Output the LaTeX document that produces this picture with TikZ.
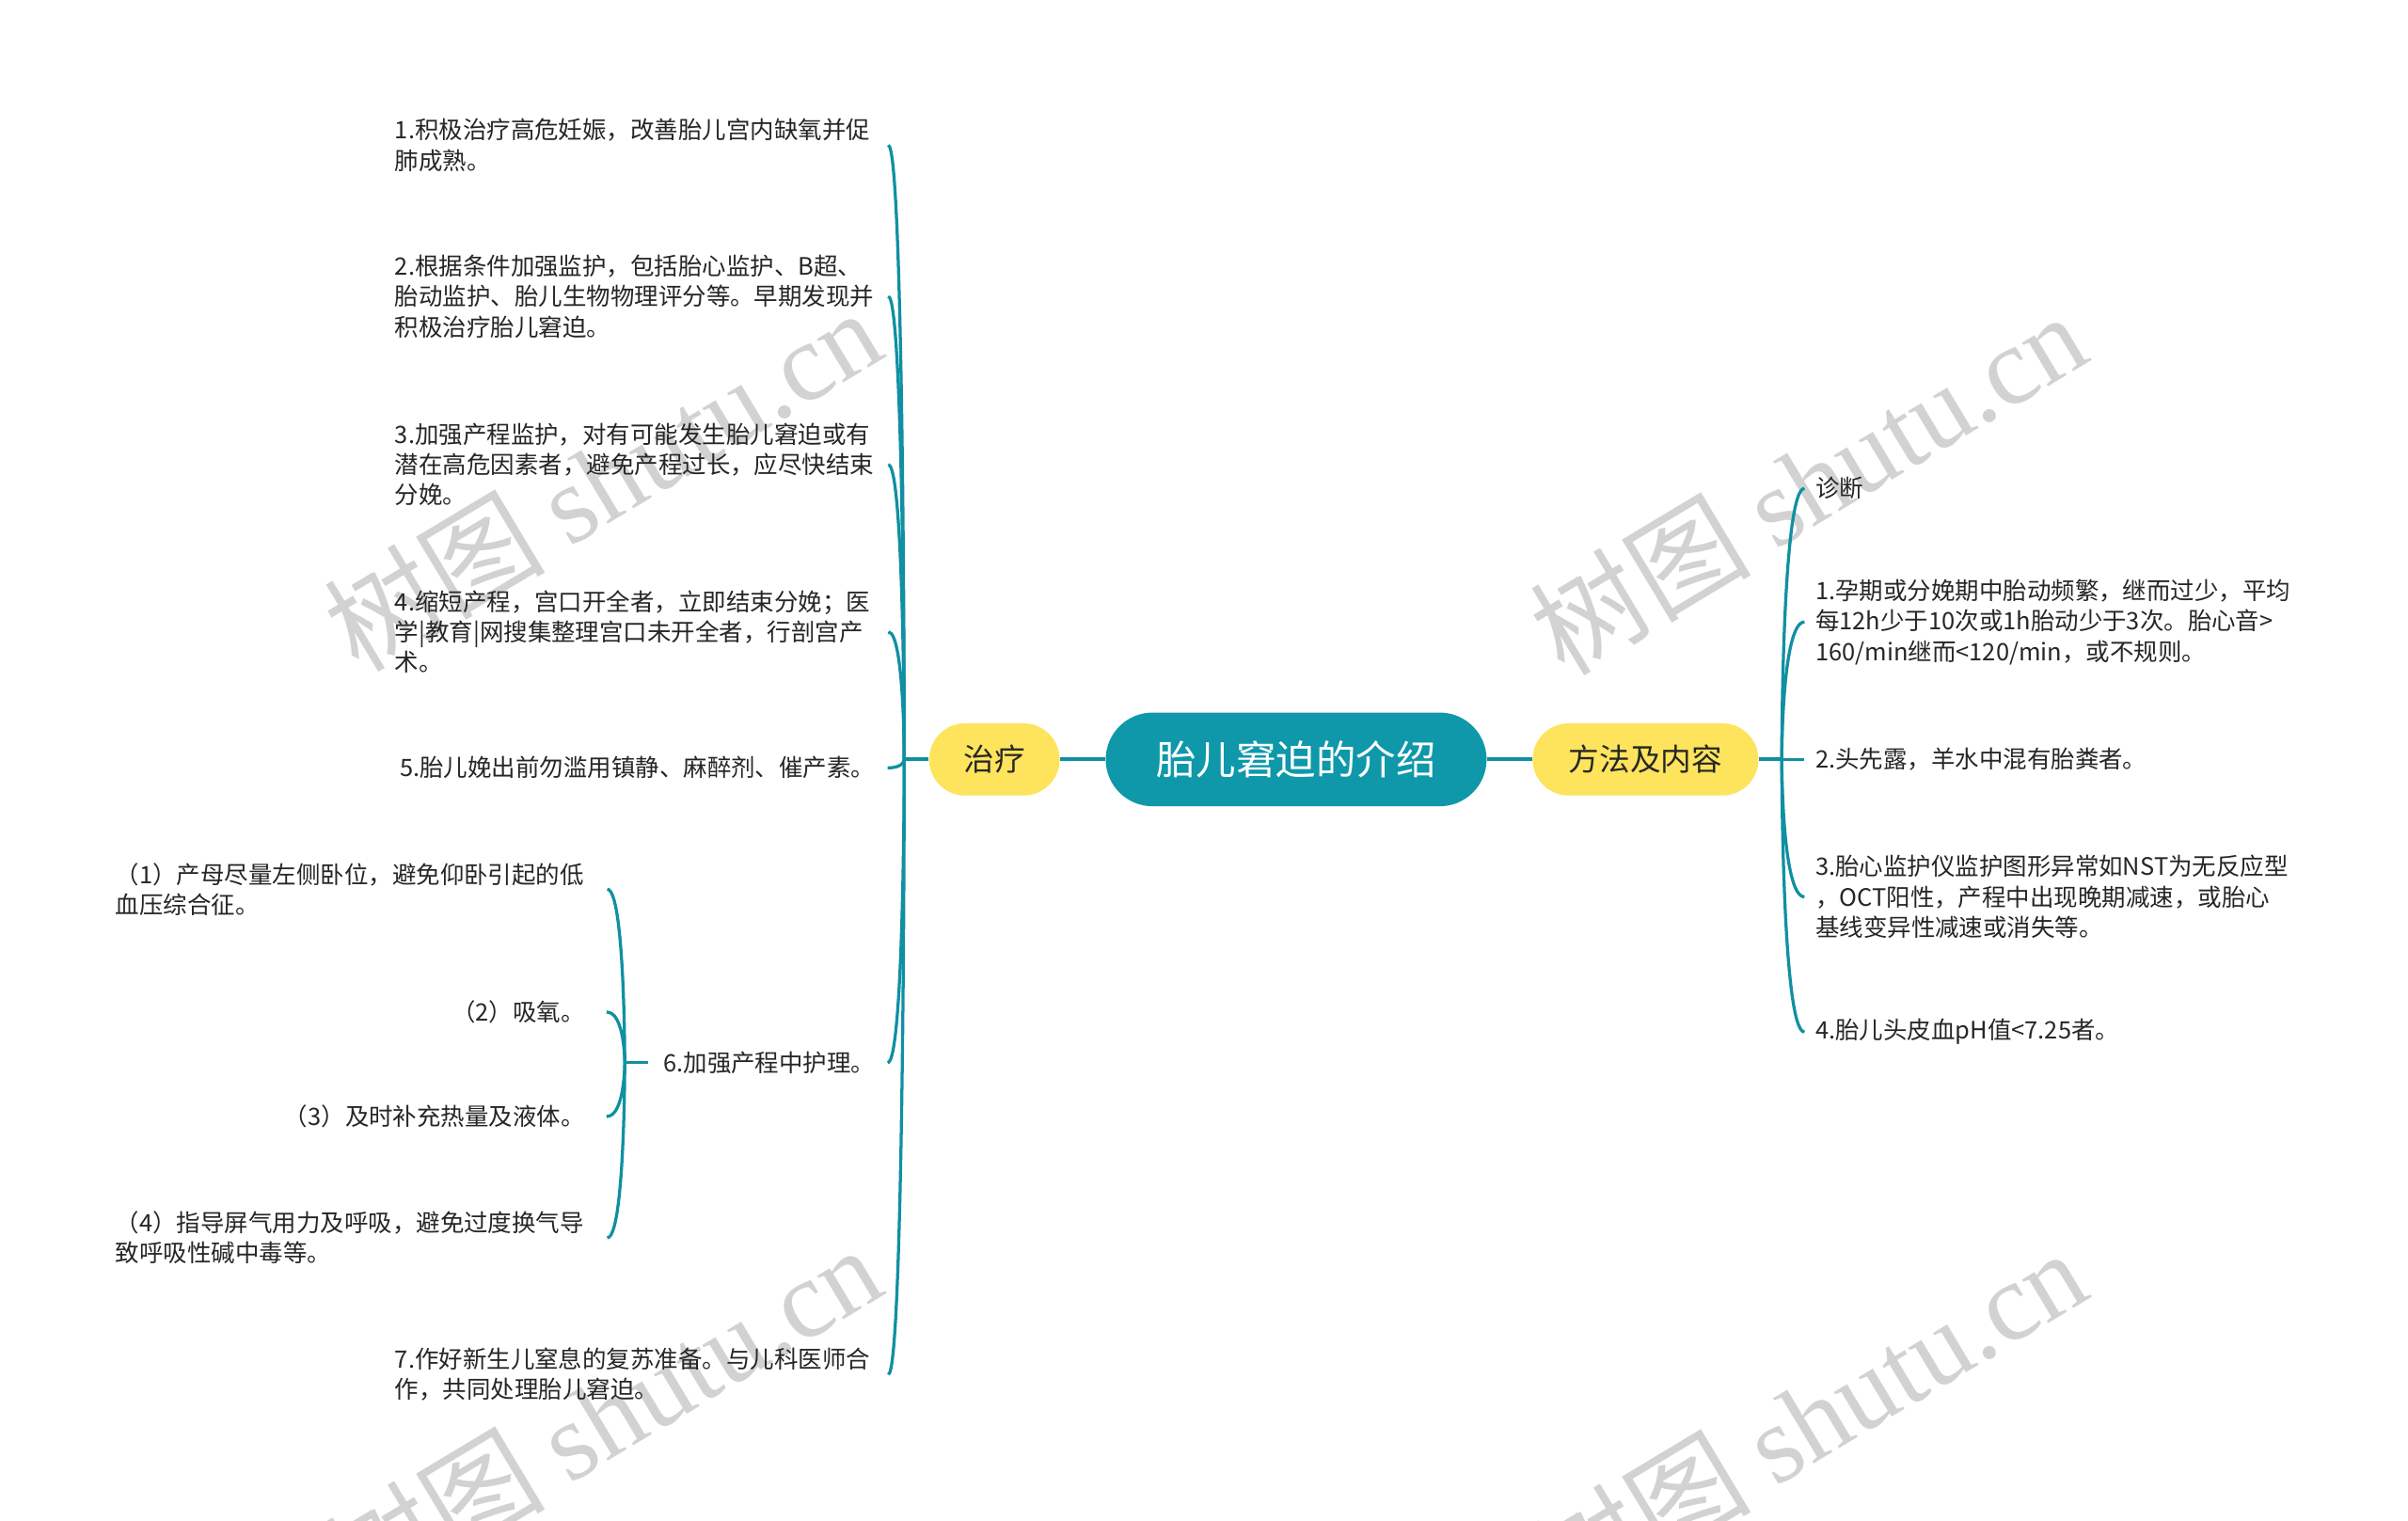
\documentclass[tikz,border=0pt]{standalone}
\usepackage{fontspec}
\setmainfont{Noto Sans CJK SC}
\newfontfamily\wmserif{Liberation Serif}
\definecolor{tealfill}{RGB}{14,152,170}
\definecolor{linecol}{RGB}{16,144,162}
\definecolor{yel}{RGB}{253,228,92}
\definecolor{txt}{RGB}{38,38,38}
\definecolor{wmcol}{RGB}{210,210,210}
\begin{document}
\begin{tikzpicture}[x=1pt,y=-1pt,
  conn/.style={draw=linecol, line width=2pt},
  mainline/.style={draw=linecol, line width=2.4pt},
  item/.style={inner sep=0pt, text=txt, font=\fontsize{15.6}{19.8}\selectfont, align=left},
  litem/.style={item, anchor=west, text width=313pt},
  sitem/.style={item, anchor=west, text width=306pt},
  ritem/.style={item, anchor=west},
  wmk/.style={text=wmcol, font=\fontsize{72}{72}\selectfont, inner sep=0pt, rotate=31},
  topic/.style={fill=yel, text=txt, font=\fontsize{20}{24}\selectfont, minimum height=47pt, rounded corners=23.5pt, inner sep=0pt}
]
\useasboundingbox (0,0) rectangle (1568,990.4);
\fill[white] (0,0) rectangle (1568,990.4);

% watermarks
\node[wmk] (w1) at (392,312) {树图 {\wmserif shutu.cn}};
\node[wmk] (w2) at (1177,314) {树图 {\wmserif shutu.cn}};
\node[wmk] (w3) at (392,922) {树图 {\wmserif shutu.cn}};
\node[wmk] (w4) at (1177,924) {树图 {\wmserif shutu.cn}};

% central and main topics
\node[fill=tealfill, text=white, font=\fontsize{26}{30}\selectfont, minimum width=248pt, minimum height=61pt, rounded corners=30.5pt, inner sep=0pt] (c) at (844,494.5) {胎儿窘迫的介绍};
\node[topic, minimum width=85pt] (tl) at (647.5,494.5) {治疗};
\node[topic, minimum width=147pt] (fr) at (1071.5,494.5) {方法及内容};

\draw[mainline] (c.west) -- (tl.east);
\draw[mainline] (c.east) -- (fr.west);

% left items
\node[litem] (l1) at (257,94.5) {1.积极治疗高危妊娠，改善胎儿宫内缺氧并促\\肺成熟。};
\node[litem] (l2) at (257,193) {2.根据条件加强监护，包括胎心监护、B超、\\胎动监护、胎儿生物物理评分等。早期发现并\\积极治疗胎儿窘迫。};
\node[litem] (l3) at (257,302.5) {3.加强产程监护，对有可能发生胎儿窘迫或有\\潜在高危因素者，避免产程过长，应尽快结束\\分娩。};
\node[litem] (l4) at (257,411.5) {4.缩短产程，宫口开全者，立即结束分娩；医\\学|教育|网搜集整理宫口未开全者，行剖宫产\\术。};
\node[item, anchor=east] (l5) at (570,500) {5.胎儿娩出前勿滥用镇静、麻醉剂、催产素。};
\node[item, anchor=east] (l6) at (570,692) {6.加强产程中护理。};
\node[litem] (l7) at (257,895) {7.作好新生儿窒息的复苏准备。与儿科医师合\\作，共同处理胎儿窘迫。};

\coordinate (jl) at ([xshift=-16pt]tl.west);
\draw[mainline] (tl.west) -- (jl);
\foreach \n in {l1,l2,l3,l4,l5,l6,l7}{
  \coordinate (\n p) at ([xshift=8pt]\n.east);
  \draw[conn] (jl) .. controls (jl) and (jl |- \n p) .. (\n p);
}

% sub items of 6
\node[sitem] (s1) at (75,579) {（1）产母尽量左侧卧位，避免仰卧引起的低\\血压综合征。};
\node[item, anchor=east] (s2) at (381,659) {（2）吸氧。};
\node[item, anchor=east] (s3) at (381,727) {（3）及时补充热量及液体。};
\node[sitem] (s4) at (75,806) {（4）指导屏气用力及呼吸，避免过度换气导\\致呼吸性碱中毒等。};

\coordinate (js) at ([xshift=-25pt]l6.west);
\draw[conn] ([xshift=-10pt]l6.west) -- (js);
\foreach \n in {s1,s2,s3,s4}{
  \coordinate (\n p) at ([xshift=14pt]\n.east);
  \draw[conn] (js) .. controls (js) and (js |- \n p) .. (\n p);
}

% right items
\node[ritem] (r0) at (1182,318) {诊断};
\node[ritem] (r1) at (1182,405) {1.孕期或分娩期中胎动频繁，继而过少，平均\\每12h少于10次或1h胎动少于3次。胎心音>\\160/min继而<120/min，或不规则。};
\node[ritem] (r2) at (1182,494.5) {2.头先露，羊水中混有胎粪者。};
\node[ritem] (r3) at (1182,584) {3.胎心监护仪监护图形异常如NST为无反应型\\，OCT阳性，产程中出现晚期减速，或胎心\\基线变异性减速或消失等。};
\node[ritem] (r4) at (1182,672) {4.胎儿头皮血pH值<7.25者。};

\coordinate (jr) at ([xshift=15pt]fr.east);
\draw[mainline] (fr.east) -- (jr);
\foreach \n in {r0,r1,r2,r3,r4}{
  \coordinate (\n p) at ([xshift=-7pt]\n.west);
  \draw[conn] (jr) .. controls (jr) and (jr |- \n p) .. (\n p);
}
\end{tikzpicture}
\end{document}
